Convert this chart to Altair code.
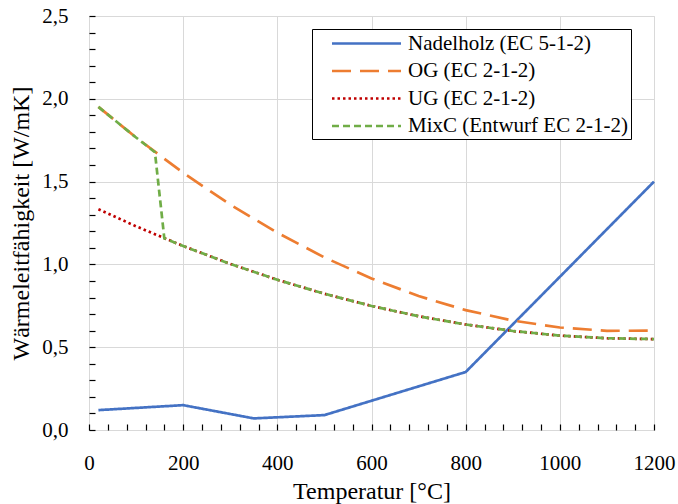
import altair as alt
import pandas as pd

# ---- data ----
series_names = ["Nadelholz (EC 5-1-2)", "OG (EC 2-1-2)", "UG (EC 2-1-2)", "MixC (Entwurf EC 2-1-2)"]
series_colors = ["#4472C4", "#ED7D31", "#C00000", "#70AD47"]
series_dashes = [[1, 0], [19, 9], [2.5, 3], [7, 4]]

t_nadel = [20, 200, 350, 500, 800, 1200]
lam_nadel = [0.12, 0.15, 0.07, 0.09, 0.35, 1.50]

t_conc = [20, 100, 200, 300, 400, 500, 600, 700, 800, 900, 1000, 1100, 1200]
lam_og = [1.951, 1.766, 1.553, 1.361, 1.191, 1.042, 0.915, 0.809, 0.724, 0.661, 0.619, 0.599, 0.600]
lam_ug = [1.333, 1.230, 1.111, 1.003, 0.907, 0.823, 0.749, 0.687, 0.637, 0.598, 0.570, 0.554, 0.549]

t_mix = [20, 100, 140, 160, 200, 300, 400, 500, 600, 700, 800, 900, 1000, 1100, 1200]
lam_mix = [1.951, 1.766, 1.678, 1.157, 1.111, 1.003, 0.907, 0.823, 0.749, 0.687, 0.637, 0.598, 0.570, 0.554, 0.549]

y_ticks = [0.0, 0.1, 0.2, 0.3, 0.4, 0.5, 0.6, 0.7, 0.8, 0.9, 1.0, 1.1, 1.2, 1.3, 1.4,
           1.5, 1.6, 1.7, 1.8, 1.9, 2.0, 2.1, 2.2, 2.3, 2.4, 2.5]
x_ticks = list(range(0, 1201, 40))

rows = []
for name, ts, ls in [(series_names[0], t_nadel, lam_nadel),
                     (series_names[1], t_conc, lam_og),
                     (series_names[2], t_conc, lam_ug),
                     (series_names[3], t_mix, lam_mix)]:
    for i, (t, l) in enumerate(zip(ts, ls)):
        rows.append({"serie": name, "T": t, "lam": l, "idx": i})
df = pd.DataFrame(rows)

FONT = "Liberation Serif"
NBSP = "\u00a0"

legend = alt.Legend(
    title=None, orient="none", legendX=223, legendY=13,
    symbolType="M-3.45,0H3.45", symbolSize=400, symbolStrokeWidth=2.5,
    symbolOffset=40, labelOffset=30,
    labelFont=FONT, labelFontSize=21, labelColor="black",
    labelExpr="datum.label + '" + NBSP * 3 + "'",
    rowPadding=5.5, padding=3,
    fillColor="white", strokeColor="black", labelLimit=400,
)

chart = alt.Chart(df).mark_line(strokeWidth=2.7, strokeCap="butt").encode(
    x=alt.X("T:Q", scale=alt.Scale(domain=[0, 1200], nice=False),
            axis=alt.Axis(
                title="Temperatur [°C]", values=x_ticks, format="d",
                labelExpr="datum.value % 200 == 0 ? datum.label : ''",
                offset=-6, tickSize=6, tickWidth=1.2, tickColor="black",
                domain=False, labelPadding=22, labelFont=FONT, labelFontSize=21,
                labelColor="black", titleFont=FONT, titleFontSize=24,
                titleFontWeight="normal", titleColor="black", titlePadding=6,
                grid=True, gridColor="#d9d9d9", gridWidth=1,
                gridOpacity=alt.condition("datum.value % 200 == 0", alt.value(1), alt.value(0)),
                labelOverlap=False, labelFlush=False,
            )),
    y=alt.Y("lam:Q", scale=alt.Scale(domain=[0, 2.5], nice=False),
            axis=alt.Axis(
                title="Wärmeleitfähigkeit [W/mK]", values=y_ticks,
                labelExpr="round(datum.value*10) % 5 == 0 ? replace(format(datum.value, '.1f'), '.', ',') : ''",
                offset=-6, tickSize=6, tickWidth=1.2, tickColor="black",
                domain=False, labelPadding=21, labelFont=FONT, labelFontSize=21,
                labelColor="black", titleFont=FONT, titleFontSize=24,
                titleFontWeight="normal", titleColor="black", titlePadding=8,
                grid=True, gridColor="#d9d9d9", gridWidth=1,
                gridOpacity=alt.condition("round(datum.value*10) % 5 == 0", alt.value(1), alt.value(0)),
                labelOverlap=False, labelFlush=False,
            )),
    color=alt.Color("serie:N", scale=alt.Scale(domain=series_names, range=series_colors), legend=legend),
    strokeDash=alt.StrokeDash("serie:N", scale=alt.Scale(domain=series_names, range=series_dashes), legend=legend),
    order="idx:Q",
).properties(
    width=565, height=414,
    autosize=alt.AutoSizeParams(type="none"),
    padding={"left": 89, "top": 16, "right": 24, "bottom": 74},
).configure_view(
    stroke="black", strokeWidth=1.5
).configure(background="white")

chart.save("out.html", embed_options={"renderer": "svg", "actions": False})
